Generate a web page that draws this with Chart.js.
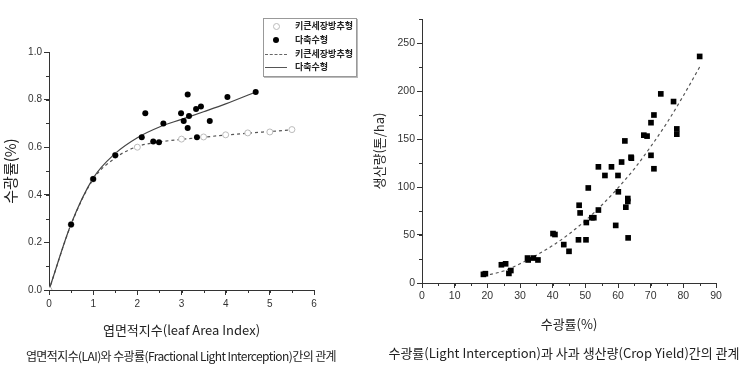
<!DOCTYPE html>
<html>
<head>
<meta charset="utf-8">
<script src="https://cdn.jsdelivr.net/npm/chart.js@4/dist/chart.umd.min.js"></script>
<style>
  body { margin: 0; background: #fff; }
  #wrap { position: relative; width: 743px; height: 368px; font-family: "Noto Sans CJK KR", sans-serif; color: #222; }
  .box { position: absolute; top: 0; }
  .cap { position: absolute; white-space: nowrap; text-align: center; font-size: 12px; line-height: 14px; }
  #legend { position: absolute; left: 263px; top: 18px; width: 92px; height: 57px; border: 1px solid #999;
            box-shadow: 1px 1px 0 #bbb; background: #fff; font-size: 9px; font-weight: bold; }
  #legend .row { position: absolute; left: 0; height: 12px; line-height: 12px; width: 100%; }
  #legend .sym { position: absolute; }
  #legend .txt { position: absolute; left: 31px; }
</style>
</head>
<body>
<div id="wrap">
  <div class="box" style="left:0;width:370px;height:368px"><canvas id="c1" width="370" height="368"></canvas></div>
  <div class="box" style="left:370px;width:373px;height:368px"><canvas id="c2" width="373" height="368"></canvas></div>

  <div id="legend">
    <div class="row" style="top:1px"><span class="sym" style="left:9px;top:3px;width:5px;height:5px;border:1px solid #bbb;border-radius:50%"></span><span class="txt">키큰세장방추형</span></div>
    <div class="row" style="top:15px"><span class="sym" style="left:9px;top:3px;width:6px;height:6px;background:#000;border-radius:50%"></span><span class="txt">다축수형</span></div>
    <div class="row" style="top:29px"><span class="sym" style="left:1px;top:6px;width:22px;border-top:1px dashed #666"></span><span class="txt">키큰세장방추형</span></div>
    <div class="row" style="top:42px"><span class="sym" style="left:1px;top:6px;width:22px;border-top:1px solid #555"></span><span class="txt">다축수형</span></div>
  </div>

  <div class="cap" style="left:0;width:362px;top:349px;letter-spacing:-0.6px">엽면적지수(LAI)와 수광률(Fractional Light Interception)간의 관계</div>
  <div class="cap" style="left:386px;width:356px;top:345px;font-size:13px;line-height:15px">수광률(Light Interception)과 사과 생산량(Crop Yield)간의 관계</div>
</div>

<script>
// left chart: leaf area index vs fractional light interception
const multiLAI = [0.5, 1.0, 1.5, 2.1, 2.18, 2.36, 2.49, 2.59, 2.99, 3.05, 3.14, 3.14, 3.17, 3.33, 3.35, 3.44, 3.64, 4.04, 4.68];
const multiFLI = [0.275, 0.466, 0.566, 0.642, 0.743, 0.624, 0.621, 0.700, 0.743, 0.710, 0.821, 0.681, 0.731, 0.761, 0.642, 0.771, 0.710, 0.811, 0.832];
const tallLAI = [0, 0.5, 1.0, 1.5, 2.0, 3.0, 3.5, 4.0, 4.5, 5.0, 5.5];
const tallFLI = [0, 0.275, 0.466, 0.566, 0.600, 0.634, 0.643, 0.652, 0.660, 0.664, 0.674];
const multiFitLAI = [0, 0.5, 1, 1.5, 2, 2.5, 3, 3.5, 4, 4.68];
const multiFitFLI = [0, 0.277, 0.47, 0.574, 0.64, 0.685, 0.717, 0.749, 0.782, 0.832];
const tallFitLAI = [0, 0.5, 1, 1.5, 2, 2.5, 3, 3.5, 4, 4.5, 5, 5.5];
const tallFitFLI = [0, 0.275, 0.465, 0.555, 0.603, 0.622, 0.633, 0.642, 0.651, 0.659, 0.666, 0.673];

// right chart: light interception (%) vs crop yield (t/ha)
const lightInt = [18.8, 19.4, 24.3, 25.6, 26.6, 27.2, 32.3, 32.5, 34.1, 35.5, 40.1, 40.7, 43.4, 45.0, 47.9, 48.1, 48.4,
  50.2, 50.3, 50.9, 52.0, 52.6, 54.0, 54.0, 56.0, 58.0, 59.3, 60.0, 60.1, 61.1, 62.1, 62.4, 63.0, 63.0, 63.1,
  64.0, 64.1, 67.9, 68.9, 70.1, 70.1, 71.0, 71.0, 73.1, 77.0, 78.0, 78.0, 85.0];
const cropYield = [9, 9.7, 19, 20, 10, 13, 26, 24, 26, 24, 51.5, 50.5, 40, 33, 45, 81, 73,
  45, 63, 99, 68, 68, 121, 76, 112, 121, 60, 112, 95, 126, 148, 79, 88, 85, 47,
  131, 130, 154, 153, 167, 133, 175, 119, 197, 189, 160.5, 155, 236];
const fitLight = [19, 25, 30, 35, 40, 45, 50, 55, 60, 65, 70, 75, 80, 85];
const fitYield = [7.5, 12.5, 20, 29, 39, 51, 65, 81, 99, 119, 142, 167, 195, 225];

const pts = (xs, ys) => xs.map((x, i) => ({ x, y: ys[i] }));

const tickFont = { family: '"Liberation Sans", Arial, sans-serif', size: 10 };
const titleFont = { family: '"Noto Sans CJK KR", sans-serif', size: 13 };

// small ticks between the labelled ones
const minorTicks = {
  id: 'minorTicks',
  afterDraw(chart) {
    const { ctx, chartArea } = chart;
    ctx.save();
    ctx.strokeStyle = '#333';
    ctx.lineWidth = 1;
    ctx.beginPath();
    for (const id of ['x', 'y']) {
      const s = chart.scales[id];
      const step = s.options.minorStep;
      if (!step) continue;
      for (let v = s.min; v <= s.max + 1e-9; v += step) {
        const p = Math.round(s.getPixelForValue(v)) + 0.5;
        if (s.isHorizontal()) { ctx.moveTo(p, chartArea.bottom); ctx.lineTo(p, chartArea.bottom + 3); }
        else { ctx.moveTo(chartArea.left - 3, p); ctx.lineTo(chartArea.left, p); }
      }
    }
    ctx.stroke();
    ctx.restore();
  }
};

function axis(opts) {
  return Object.assign({
    type: 'linear',
    border: { display: true, color: '#333', width: 1 },
    grid: { drawOnChartArea: false, drawTicks: true, tickLength: 5, tickColor: '#333' },
    ticks: { font: tickFont, color: '#333', padding: 2, maxRotation: 0 },
  }, opts);
}

new Chart(document.getElementById('c1'), {
  type: 'scatter',
  data: {
    datasets: [
      { data: pts(multiLAI, multiFLI), pointRadius: 3, pointBorderWidth: 0, backgroundColor: '#000' },
      { data: pts(tallLAI, tallFLI), pointRadius: 3, pointBorderWidth: 1, borderColor: '#bbb', backgroundColor: '#fff' },
      { data: pts(multiFitLAI, multiFitFLI), showLine: true, pointRadius: 0, borderColor: '#444', borderWidth: 1.2,
        cubicInterpolationMode: 'monotone' },
      { data: pts(tallFitLAI, tallFitFLI), showLine: true, pointRadius: 0, borderColor: '#555', borderWidth: 1.2,
        borderDash: [3, 3], cubicInterpolationMode: 'monotone' }
    ]
  },
  options: {
    responsive: false,
    animation: false,
    layout: { padding: { left: 0, top: 52, right: 56, bottom: 28 } },
    plugins: { legend: { display: false }, tooltip: { enabled: false } },
    scales: {
      x: axis({
        min: 0, max: 6, minorStep: 0.5,
        ticks: { font: tickFont, color: '#333', padding: 3, stepSize: 1, maxRotation: 0 },
        title: { display: true, text: '엽면적지수(leaf Area Index)', font: titleFont, color: '#222', padding: { top: 0, bottom: 2 } },
        afterFit: s => { s.height = 50; }
      }),
      y: axis({
        min: 0, max: 1, minorStep: 0.1,
        ticks: { font: tickFont, color: '#333', padding: 2, stepSize: 0.2, callback: v => v.toFixed(1) },
        title: { display: true, text: '수광률(%)', font: { ...titleFont, size: 15 }, color: '#222', padding: { top: 1, bottom: 0 } },
        afterFit: s => { s.width = 49; }
      })
    }
  },
  plugins: [minorTicks]
});

new Chart(document.getElementById('c2'), {
  type: 'scatter',
  data: {
    datasets: [
      { data: pts(lightInt, cropYield), pointStyle: 'rect', pointRadius: 4, pointBorderWidth: 0, backgroundColor: '#000' },
      { data: pts(fitLight, fitYield), showLine: true, pointRadius: 0, borderColor: '#555', borderWidth: 1.2,
        borderDash: [3, 3], cubicInterpolationMode: 'monotone' }
    ]
  },
  options: {
    responsive: false,
    animation: false,
    layout: { padding: { left: 0, top: 19, right: 27, bottom: 35 } },
    plugins: { legend: { display: false }, tooltip: { enabled: false } },
    scales: {
      x: axis({
        min: 0, max: 90, minorStep: 5,
        ticks: { font: { ...tickFont, size: 10.5 }, color: '#333', padding: 2, stepSize: 10, maxRotation: 0 },
        title: { display: true, text: '수광률(%)', font: titleFont, color: '#222', padding: { top: 0, bottom: 1 } },
        afterFit: s => { s.height = 50; }
      }),
      y: axis({
        min: 0, max: 275, minorStep: 25,
        ticks: { font: { ...tickFont, size: 10.5 }, color: '#333', padding: 2, stepSize: 50 },
        afterBuildTicks: s => { s.ticks = s.ticks.filter(t => t.value % 50 === 0); },
        title: { display: true, text: '생산량(톤/ha)', font: titleFont, color: '#222', padding: { top: 1, bottom: 0 } },
        afterFit: s => { s.width = 52; }
      })
    }
  },
  plugins: [minorTicks]
});
</script>
</body>
</html>
